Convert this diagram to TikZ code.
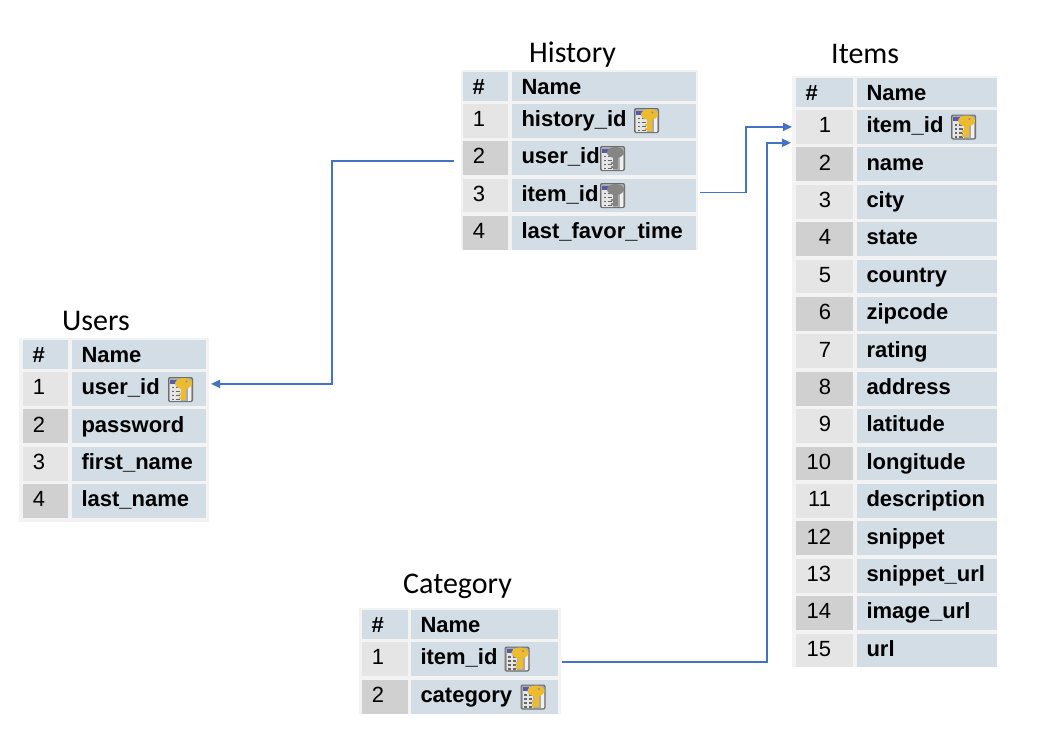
\documentclass[tikz,border=0pt]{standalone}
\usepackage{fontspec}
\setmainfont{Liberation Sans}
\newfontfamily\titlefont{Carlito}
\usetikzlibrary{arrows.meta}
\definecolor{cellblue}{HTML}{D3DDE5}
\definecolor{rowodd}{HTML}{E5E5E5}
\definecolor{roweven}{HTML}{D0D0D0}
\definecolor{tablebg}{HTML}{F3F3F3}
\definecolor{linkblue}{HTML}{4472C4}
\definecolor{keygold}{HTML}{EDBB2F}
\tikzset{
  cell/.style={rectangle,draw=none,outer sep=0pt,inner ysep=0pt,anchor=north west,align=left,
    text height=13.5pt,text depth=2pt,font=\fontsize{22}{24}\selectfont\bfseries,text=black},
  headcell/.style={cell,text height=18pt},
  numcell/.style={cell,font=\fontsize{22}{24}\selectfont},
  tabletitle/.style={anchor=base west,inner sep=0pt,font=\fontsize{30}{32}\selectfont\titlefont},
  link/.style={draw=linkblue,line width=1.7pt,-{Triangle[length=9pt,width=8pt]}},
  keyicon/.pic={
    \fill[rounded corners=2pt,fill=black!58] (-12.5,-12.5) rectangle (12.5,12.5);
    \fill[rounded corners=1.5pt,fill=black!33] (-11.5,-11.5) rectangle (11.5,11.5);
    \fill[fill=black!10] (-10.5,-10) rectangle (0,11);
    \fill[fill=blue!30!gray] (-10.5,-10) rectangle (-4,-6);
    \foreach \r in {-3,1,5,9}{
      \fill[black!60] (-9,\r) rectangle (-6.5,\r+1.6);
      \fill[black!60] (-4.5,\r) rectangle (-1,\r+1.6);
    }
    \fill[black!6] (7.5,-4) rectangle (10.5,11);
    \fill[fill=\keycol] (3,-6) ellipse (8.5 and 5.5);
    \fill[fill=\keycol] (0.5,-4) rectangle (5.5,10);
    \fill[fill=\keycol] (-1.5,3) rectangle (1,5.5);
    \fill[fill=\keycol] (-1.5,7) rectangle (1,9.5);
    \fill[black!45] (6,-8) circle (1.2);
  },
  goldicon/.pic={\def\keycol{keygold}\pic {keyicon};},
  greyicon/.pic={\def\keycol{black!48}\pic {keyicon};},
}
% #1 prefix, #2 number-column left, #3 number-column right, #4 name-column left, #5 name-column right,
% #6 header top, #7 first-row top, #8 row pitch, #9 names
\newcommand{\dbtable}[9]{%
  \pgfmathsetmacro\nw{#3-#2}%
  \pgfmathsetmacro\mw{#5-#4}%
  \pgfmathsetmacro\hh{#7-3.3-#6}%
  \pgfmathsetmacro\rh{#8-3.6}%
  \node[headcell,fill=cellblue,minimum width=\nw pt,minimum height=\hh pt,inner xsep=9.5pt,
        text width=\nw pt-19pt] (#1numh) at (#2,#6) {\#};
  \node[headcell,fill=cellblue,minimum width=\mw pt,minimum height=\hh pt,inner xsep=9.5pt,
        text width=\mw pt-19pt] (#1nameh) at (#4,#6) {Name};
  \foreach \nm [count=\i] in {#9}{%
    \pgfmathsetmacro\yy{#7+(\i-1)*#8}%
    \ifodd\i\def\rowcol{rowodd}\else\def\rowcol{roweven}\fi
    \node[numcell,fill=\rowcol,minimum width=\nw pt,minimum height=\rh pt,inner xsep=0pt,
          text width=\nw pt] (#1num\i) at (#2,\yy) {\makebox[\numinset pt][r]{\i}};
    \node[cell,fill=cellblue,minimum width=\mw pt,minimum height=\rh pt,inner xsep=9.5pt,
          text width=\mw pt-19pt] (#1name\i) at (#4,\yy) {\nm};
  }%
}
\newcommand{\keypic}[3]{\pic at (#1,#2) {#3};}
\begin{document}
\begin{tikzpicture}[x=1pt,y=-1pt]
\useasboundingbox (0,0) rectangle (1040,734);
\fill[white] (0,0) rectangle (1040,734);

% panels behind the tables
\fill[tablebg] (461,70) rectangle (698,250);
\fill[tablebg] (792,76) rectangle (997,667);
\fill[tablebg] (19,338) rectangle (209,522);
\fill[tablebg] (359,608) rectangle (561,714);

% titles
\node[tabletitle] (histtitle) at (529,62) {History};
\node[tabletitle] (itemstitle) at (831,63) {Items};
\node[tabletitle] (userstitle) at (62,330) {Users};
\node[tabletitle] (cattitle) at (403,593) {Category};

% tables
\def\numinset{22}
\dbtable{h}{463}{508}{512}{696}{72}{104}{37.33}{history\_id,user\_id,item\_id,last\_favor\_time}
\dbtable{u}{23}{68}{72}{206}{340}{372}{37.4}{user\_id,password,first\_name,last\_name}
\dbtable{c}{362}{408}{411}{558}{610}{642}{38}{item\_id,category}
\def\numinset{35}
\dbtable{i}{796}{853}{857}{997}{78}{110}{37.4}{item\_id,name,city,state,country,zipcode,rating,address,latitude,longitude,description,snippet,snippet\_url,image\_url,url}

% key icons
\keypic{646.5}{120.5}{goldicon}
\keypic{612.5}{158.5}{greyicon}
\keypic{612.5}{195.5}{greyicon}
\keypic{963.5}{127}{goldicon}
\keypic{180.5}{389.5}{goldicon}
\keypic{517}{659}{goldicon}
\keypic{533}{697}{goldicon}

% connectors
\coordinate (bendu) at (332,0);
\coordinate (bendi) at (746,0);
\coordinate (bendc) at (767,0);
\coordinate (starth) at ([shift={(-9,3)}]hnum2.west);
\coordinate (endu) at ([shift={(5,-5)}]uname1.east);
\coordinate (starti) at ([shift={(4,-3)}]hname3.east);
\coordinate (endi) at ([xshift=-4pt]inum1.west);
\coordinate (startc) at ([shift={(4,3)}]cname1.east);
\coordinate (endc) at ([shift={(-5,-1)}]inum1.south west);
\draw[link] (starth) -| (bendu |- endu) -- (endu);
\draw[link] (starti) -| (bendi |- endi) -- (endi);
\draw[link] (startc) -| (bendc |- endc) -- (endc);
\end{tikzpicture}
\end{document}
